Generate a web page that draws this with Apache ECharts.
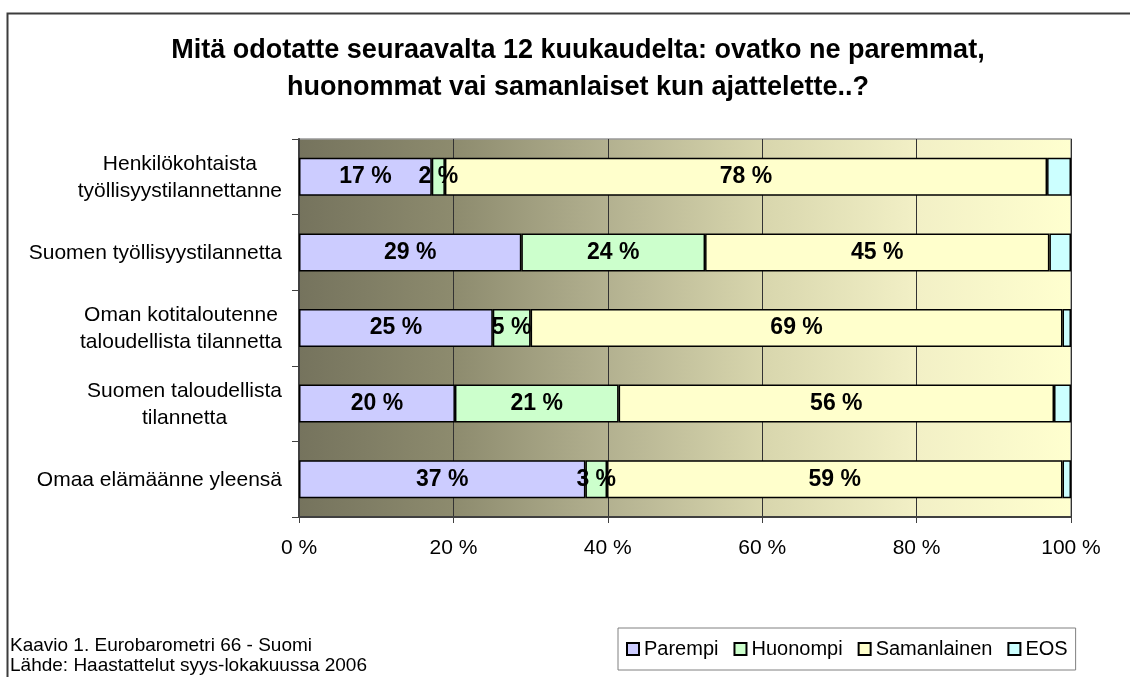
<!DOCTYPE html>
<html>
<head>
<meta charset="utf-8">
<script src="https://cdn.jsdelivr.net/npm/echarts@6/dist/echarts.min.js"></script>
<style>
    html,body{margin:0;padding:0;background:#fff;}
    #chart{width:1130px;height:677px;}
</style>
</head>
<body>
<div id="chart"></div>
<script>
var categories = [
    'Henkilökohtaista\ntyöllisyystilannettanne',
    'Suomen työllisyystilannetta',
    'Oman kotitaloutenne\ntaloudellista tilannetta',
    'Suomen taloudellista\ntilannetta',
    'Omaa elämäänne yleensä'
];
var seriesNames = ['Parempi', 'Huonompi', 'Samanlainen', 'EOS'];
var parempi = [17.2, 28.8, 25.1, 20.2, 37.1];
var huonompi = [1.7, 23.8, 4.9, 21.2, 2.8];
var samanlainen = [78.0, 44.6, 68.9, 56.4, 59.0];
var eos = [3.1, 2.8, 1.1, 2.2, 1.1];
var xTicks = [0, 20, 40, 60, 80, 100];

var colors = ['#ccccff', '#ccffcc', '#ffffcc', '#ccffff'];
var font = "'Liberation Sans', Arial, sans-serif";

(function() {
    var myChart = echarts.init(document.getElementById('chart'));
    var values = [parempi, huonompi, samanlainen, eos];

    var series = [];
    for (var i = 0; i < values.length; i++) {
        series.push({
            name: seriesNames[i],
            type: 'bar',
            stack: 'total',
            barWidth: 38,
            data: values[i],
            itemStyle: {
                color: colors[i],
                borderColor: '#000',
                borderWidth: 1.5
            },
            label: {
                show: i < 3,
                position: 'inside',
                color: '#000',
                fontFamily: font,
                fontWeight: 'bold',
                fontSize: 23,
                formatter: function(p) { return Math.round(p.value) + ' %'; }
            },
            emphasis: { disabled: true }
        });
    }

    myChart.setOption({
        animation: false,
        color: colors,
        title: [{
            text: 'Mitä odotatte seuraavalta 12 kuukaudelta: ovatko ne paremmat,\nhuonommat vai samanlaiset kun ajattelette..?',
            left: 573,
            top: 27,
            textAlign: 'center',
            textStyle: {
                fontFamily: font,
                fontSize: 27,
                fontWeight: 'bold',
                color: '#000',
                lineHeight: 37
            }
        }, {
            text: 'Kaavio 1. Eurobarometri 66 - Suomi\nLähde: Haastattelut syys-lokakuussa 2006',
            left: 5,
            top: 631,
            textStyle: {
                fontFamily: font,
                fontSize: 19,
                fontWeight: 'normal',
                color: '#000',
                lineHeight: 20
            }
        }],
        legend: {
            left: 618,
            top: 628,
            padding: [11, 8],
            itemGap: 15,
            itemWidth: 12,
            itemHeight: 12,
            icon: 'rect',
            borderColor: '#808080',
            borderWidth: 1,
            backgroundColor: '#fff',
            data: seriesNames,
            textStyle: { fontFamily: font, fontSize: 20, color: '#000' }
        },
        grid: {
            left: 299,
            right: 59,
            top: 139,
            bottom: 160,
            show: true,
            borderColor: '#999',
            borderWidth: 1.5,
            backgroundColor: new echarts.graphic.LinearGradient(0, 0, 1, 0, [
                { offset: 0, color: '#75735d' },
                { offset: 0.2, color: '#8d8b6e' },
                { offset: 0.4, color: '#b3b190' },
                { offset: 0.6, color: '#d8d6ad' },
                { offset: 0.8, color: '#f2f0c6' },
                { offset: 1, color: '#ffffcf' }
            ])
        },
        xAxis: {
            type: 'value',
            min: xTicks[0],
            max: xTicks[xTicks.length - 1],
            interval: xTicks[1] - xTicks[0],
            axisLine: { show: true, lineStyle: { color: '#404040', width: 2 } },
            axisTick: { show: true, length: 6, lineStyle: { color: '#404040', width: 1 } },
            splitLine: { show: true, lineStyle: { color: '#333', width: 1 } },
            axisLabel: {
                margin: 21,
                color: '#000',
                fontFamily: font,
                fontSize: 21,
                formatter: '{value} %'
            }
        },
        yAxis: {
            type: 'category',
            inverse: true,
            data: categories,
            axisLine: { show: true, lineStyle: { color: '#404040', width: 2 } },
            axisTick: { show: true, length: 7, lineStyle: { color: '#404040', width: 1 } },
            axisLabel: {
                margin: 17,
                color: '#000',
                fontFamily: font,
                fontSize: 21,
                formatter: function(v) {
                    return v.split('\n').map(function(s) { return '{c|' + s + '}'; }).join('\n');
                },
                rich: {
                    c: { align: 'center', fontFamily: font, fontSize: 21, lineHeight: 27, color: '#000', padding: [2, 0, 0, 0] }
                }
            }
        },
        graphic: [{
            type: 'rect',
            left: 5,
            top: 11,
            shape: { width: 1200, height: 800 },
            style: { fill: 'none', stroke: '#3c3c3c', lineWidth: 2 },
            silent: true
        }],
        series: series
    });
})();
</script>
</body>
</html>
